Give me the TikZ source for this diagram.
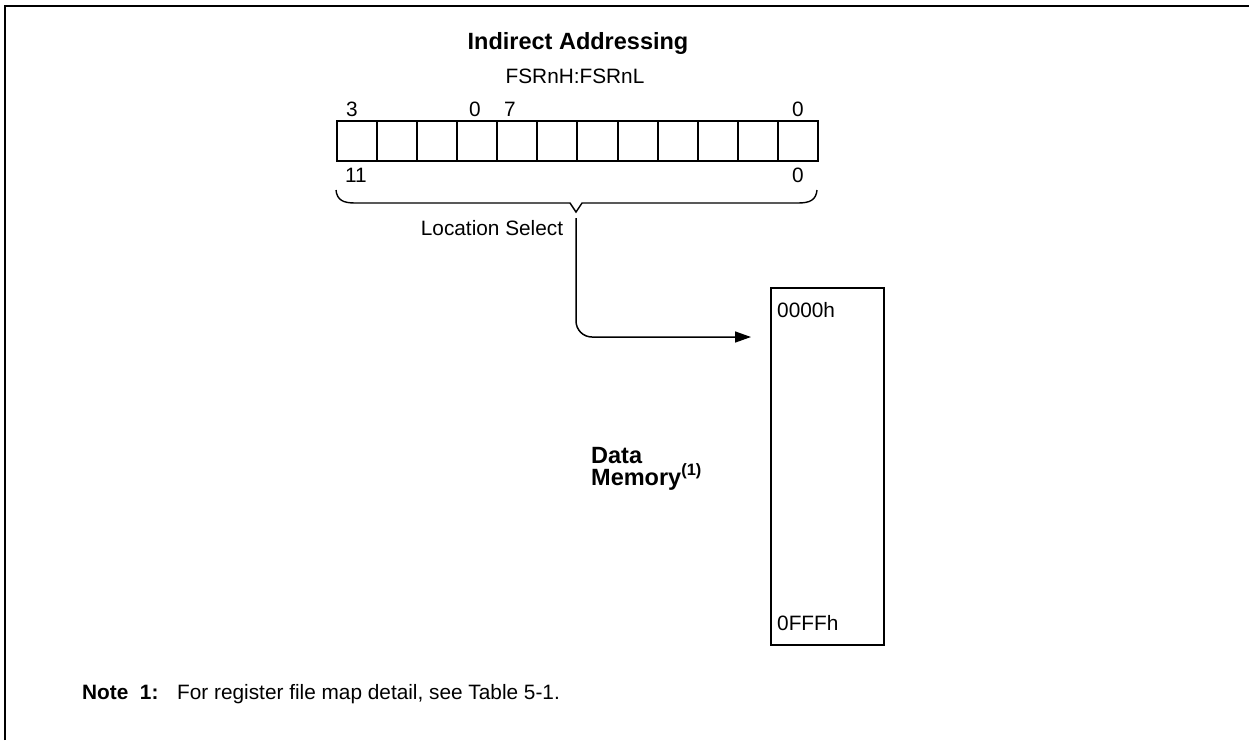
\documentclass[tikz,border=0pt]{standalone}
\usepackage{fontspec}
\setmainfont{Liberation Sans}
\usetikzlibrary{arrows.meta}
\begin{document}
\begin{tikzpicture}[x=1pt,y=-1pt,
  reg/.style={font=\fontsize{20.8}{24}\selectfont},
  bold/.style={font=\fontsize{23.5}{22}\selectfont\bfseries},
  lbl/.style={inner sep=0pt,anchor=base},
  cell/.style={draw,line width=2pt,minimum width=40.08pt,minimum height=40pt,inner sep=0pt,anchor=north west},
  conn/.style={line width=1.5pt,-{Triangle[length=16pt,width=11pt]},rounded corners=16pt}]
\useasboundingbox (0,0) rectangle (1249,740);
% frame (only top and left edges visible)
\draw[line width=2.6pt] (5,740) -- (5,6) -- (1249,6);
% titles
\node[lbl,bold] (title) at (578,49) {Indirect Addressing};
\node[lbl,reg] (fsr) at (575,83) {FSRnH:FSRnL};
% register cells
\foreach \i in {0,...,11} {
  \node[cell] (c\i) at (336+40.08*\i,120) {};
}
% bit labels
\node[lbl,reg] (b3) at (352,116) {3};
\node[lbl,reg] (b0a) at (475,116) {0};
\node[lbl,reg] (b7) at (510,116) {7};
\node[lbl,reg] (b0b) at (798,116) {0};
\node[lbl,reg] (b11) at (356,182) {11};
\node[lbl,reg] (b0c) at (798,182) {0};
% brace
\coordinate (btip) at (576,212);
\draw[line width=1.4pt] (336,190) .. controls (337,200) and (343,203) .. (355,203) -- (570,203) -- (btip) -- (582,203) -- (798,203) .. controls (810,203) and (816,200) .. (817,190);
\node[lbl,reg] (sel) at (492,235) {Location Select};
% memory
\node[draw,line width=2pt,minimum width=113pt,minimum height=357pt,inner sep=0pt,anchor=north west] (mem) at (770,287) {};
\node[lbl,reg,anchor=base west] (m0) at (777,317) {0000h};
\node[lbl,reg,anchor=base west] (m1) at (777,630) {0FFFh};
\node[lbl,bold,anchor=base west] (dm1) at (591,463) {Data};
\node[lbl,bold,anchor=base west] (dm2) at (591,485) {Memory\textsuperscript{(1)}};
% connector
\coordinate (cstart) at (576,218);
\coordinate (cend) at ([xshift=-19pt]mem.west |- 0,337);
\draw[conn] (cstart) |- (cend);
% note
\node[lbl,font=\fontsize{20.8}{24}\selectfont\bfseries,anchor=base west] (note) at (82,699) {Note\ \ 1:};
\node[lbl,reg,anchor=base west] (notetext) at (177,699) {For register file map detail, see Table 5-1.};
\end{tikzpicture}
\end{document}
